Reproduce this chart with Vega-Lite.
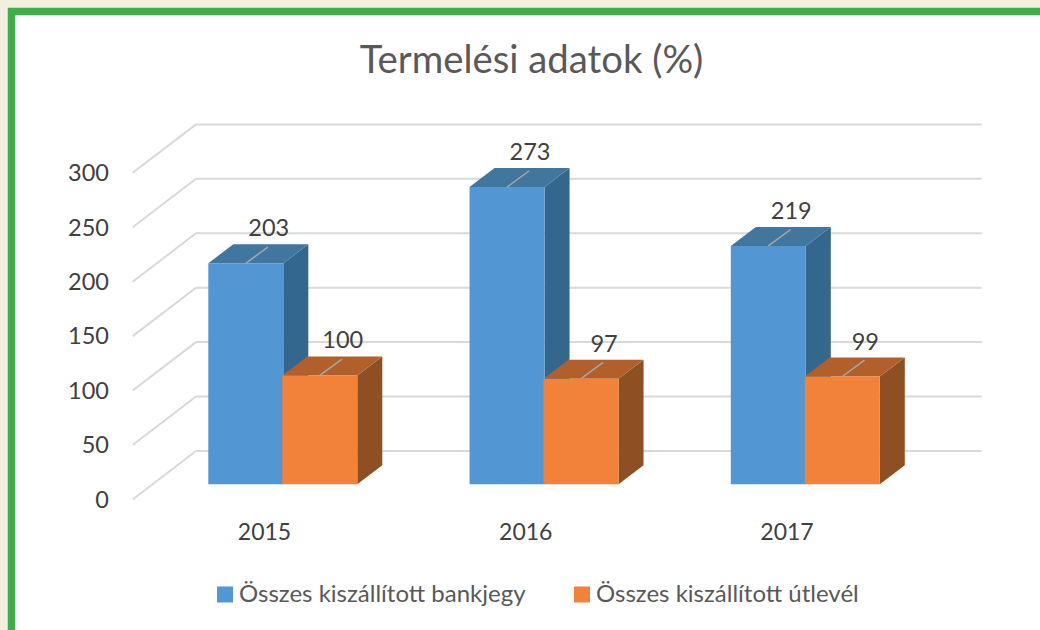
{
"$schema":"https://vega.github.io/schema/vega-lite/v6.json",
"width":1040,"height":630,"autosize":"none",
"padding":{"left":11.5,"top":11.5,"right":0,"bottom":0},
"background":"#f3efdf",
"view":{"fill":"#ffffff","stroke":"#3fae49","strokeWidth":7.5},
"title":{"text":"Termelési adatok (%)","anchor":"middle","frame":"group","offset":-70,"fontSize":38.3,"font":"Lato","fontWeight":"normal","color":"#595959"},
"config":{"font":"Lato"},
"datasets":{
"bars":[
{"year":2015,"series":"Összes kiszállított bankjegy","value":203},
{"year":2015,"series":"Összes kiszállított útlevél","value":100},
{"year":2016,"series":"Összes kiszállított bankjegy","value":273},
{"year":2016,"series":"Összes kiszállított útlevél","value":97},
{"year":2017,"series":"Összes kiszállított bankjegy","value":219},
{"year":2017,"series":"Összes kiszállított útlevél","value":99}],
"grid":[{"v":0},{"v":50},{"v":100},{"v":150},{"v":200},{"v":250},{"v":300}]
},
"layer":[
{"data":{"name":"grid"},
 "transform":[{"calculate":"datum.v+30.6","as":"wall"}],
 "mark":{"type":"rule","color":"#d9d9d9","strokeWidth":2},
 "encoding":{
  "x":{"datum":2014.7397,"type":"quantitative","scale":{"domain":[2014.0335,2018.0144],"nice":false,"zero":false},
   "axis":{"values":[2015,2016,2017],"format":"d","title":null,"grid":false,"domain":false,"ticks":false,"offset":-120,"labelPadding":0,"labelFontSize":23,"labelColor":"#404040","labelFont":"Lato","labelBaseline":"top"}},
  "x2":{"datum":2017.7472},
  "y":{"field":"wall","type":"quantitative","scale":{"domain":[-144.39,434.28],"nice":false,"zero":false},
   "axis":{"values":[0,50,100,150,200,250,300],"title":null,"grid":false,"domain":false,"ticks":false,"offset":-97,"labelPadding":0,"labelOffset":16,"labelFontSize":23.5,"labelColor":"#404040","labelFont":"Lato"}}
 }},
{"data":{"name":"grid"},
 "transform":[{"calculate":"datum.v+30.6","as":"wall"},{"calculate":"datum.v-13.9","as":"near"}],
 "mark":{"type":"rule","color":"#d9d9d9","strokeWidth":2},
 "encoding":{
  "x":{"datum":2014.7397,"type":"quantitative"},
  "x2":{"datum":2014.4974},
  "y":{"field":"wall","type":"quantitative"},
  "y2":{"field":"near"}
 }},
{"data":{"name":"bars"},
 "transform":[
  {"calculate":"datum.year+(datum.series==='Összes kiszállított bankjegy'?-0.2132:0.07)","as":"left"},
  {"calculate":"datum.left+0.2871","as":"right"},
  {"calculate":"[0,1]","as":"t"},{"flatten":["t"]},
  {"calculate":"datum.right+datum.t*0.0957","as":"sx"},
  {"calculate":"datum.value+datum.t*17.45","as":"sy"},
  {"calculate":"datum.t*17.45","as":"sy0"}],
 "mark":{"type":"area","orient":"vertical","stroke":null},
 "encoding":{
  "x":{"field":"sx","type":"quantitative"},
  "y":{"field":"sy","type":"quantitative"},
  "y2":{"field":"sy0"},
  "detail":[{"field":"year"},{"field":"series"}],
  "fill":{"condition":{"test":"datum.series==='Összes kiszállított bankjegy'","value":"#34678d"},"value":"#8e5023"}
 }},
{"data":{"name":"bars"},
 "transform":[
  {"calculate":"datum.year+(datum.series==='Összes kiszállított bankjegy'?-0.2132:0.07)","as":"left"},
  {"calculate":"datum.left+0.2871","as":"right"},
  {"calculate":"[0,1]","as":"t"},{"flatten":["t"]},
  {"calculate":"datum.left+datum.t*0.0957","as":"tx"},
  {"calculate":"datum.right+datum.t*0.0957","as":"tx2"},
  {"calculate":"datum.value+datum.t*17.45","as":"ty"}],
 "mark":{"type":"area","orient":"horizontal","stroke":null},
 "encoding":{
  "y":{"field":"ty","type":"quantitative"},
  "x":{"field":"tx","type":"quantitative"},
  "x2":{"field":"tx2"},
  "detail":[{"field":"year"},{"field":"series"}],
  "fill":{"condition":{"test":"datum.series==='Összes kiszállított bankjegy'","value":"#41769f"},"value":"#b1602c"}
 }},
{"data":{"name":"bars"},
 "transform":[
  {"calculate":"datum.year+(datum.series==='Összes kiszállított bankjegy'?-0.2132:0.07)","as":"left"},
  {"calculate":"datum.left+0.2871","as":"right"}],
 "mark":{"type":"rect"},
 "encoding":{
  "x":{"field":"left","type":"quantitative"},
  "x2":{"field":"right"},
  "y":{"field":"value","type":"quantitative"},
  "y2":{"datum":0},
  "color":{"field":"series","type":"nominal",
   "scale":{"domain":["Összes kiszállított bankjegy","Összes kiszállított útlevél"],"range":["#5296d3","#f2813a"]},
   "legend":{"title":null,"orient":"none","legendX":201.5,"legendY":571,"direction":"horizontal","columns":2,"symbolType":"square","symbolSize":256,"symbolOpacity":1,"labelFontSize":24,"labelColor":"#595959","labelFont":"Lato","labelLimit":400,"columnPadding":44,"labelOffset":2}}
 }},
{"data":{"name":"bars"},
 "transform":[
  {"calculate":"datum.year+(datum.series==='Összes kiszállított bankjegy'?-0.2132:0.07)+0.14355","as":"mid"},
  {"calculate":"datum.mid+0.085","as":"midb"},
  {"calculate":"datum.value+15","as":"vb"}],
 "layer":[
  {"mark":{"type":"rule","color":"#a6a6a6","strokeWidth":1.5},
   "encoding":{"x":{"field":"mid","type":"quantitative"},"x2":{"field":"midb"},"y":{"field":"value","type":"quantitative"},"y2":{"field":"vb"}}},
  {"mark":{"type":"text","dx":23,"dy":-34,"fontSize":23.5,"color":"#404040","font":"Lato"},
   "encoding":{"x":{"field":"mid","type":"quantitative"},"y":{"field":"value","type":"quantitative"},"text":{"field":"value","type":"quantitative"}}}
 ]}
]
}
